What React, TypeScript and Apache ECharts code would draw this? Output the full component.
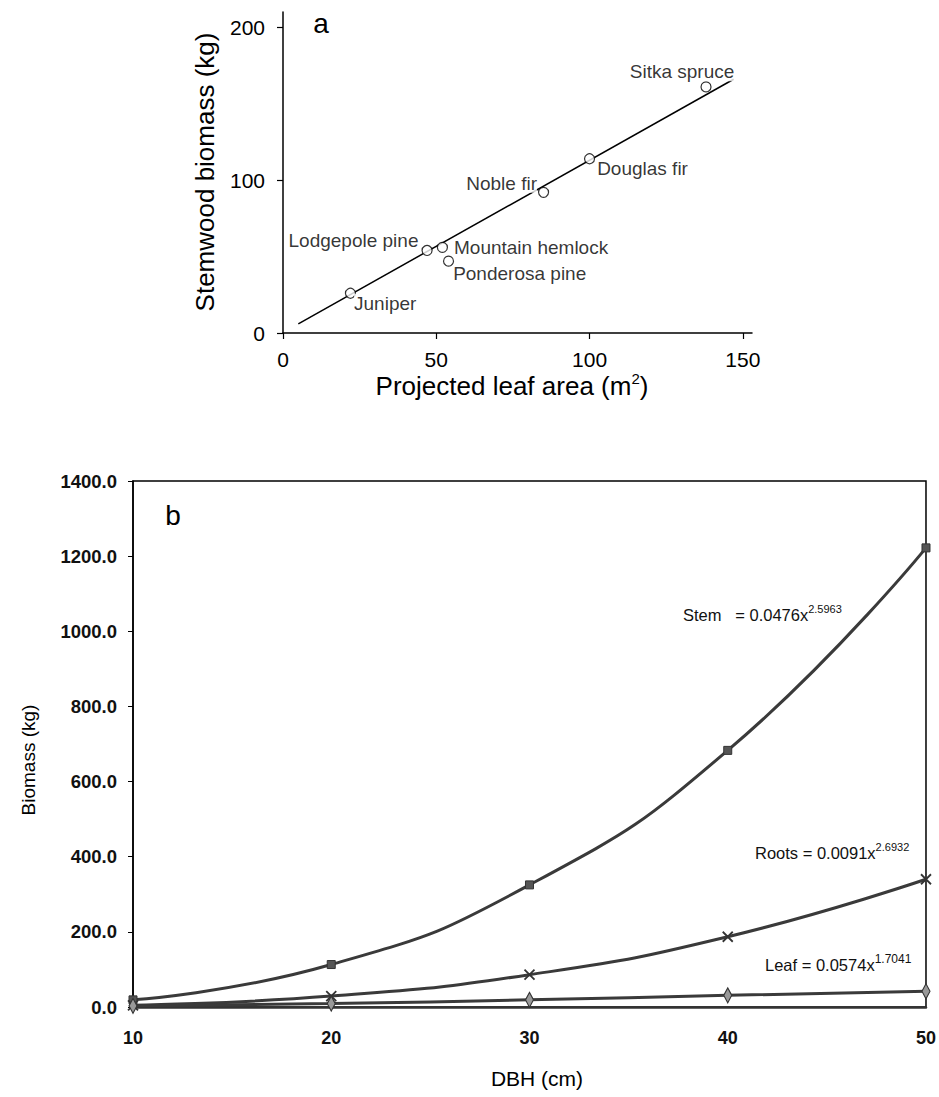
import React, { useEffect, useRef } from "react";
import * as echarts from "echarts";

// ---- Panel a data ----
const speciesNames = ["Juniper", "Lodgepole pine", "Mountain hemlock", "Ponderosa pine", "Noble fir", "Douglas fir", "Sitka spruce"];
const leafArea = [22, 47, 52, 54, 85, 100, 138];
const stemBiomass = [26, 54, 56, 47, 92, 114, 161];
const fitX = [5, 147];
const fitY = [6, 166];
const aXTicks = [0, 50, 100, 150];
const aYTicks = [0, 100, 200];

// ---- Panel b data ----
const dbh = [10, 20, 30, 40, 50];
const stemKg = [19, 113, 325, 683, 1222];
const rootsKg = [4.5, 29, 86, 187, 340];
const leafKg = [3, 9, 19, 31, 42];

const FONT = "'Liberation Sans', Arial, Helvetica, sans-serif";

const labelPlacement: Record<string, { position: string; offset: number[] }> = {
  "Juniper": { position: "right", offset: [-7, 10] },
  "Lodgepole pine": { position: "left", offset: [2, -10] },
  "Mountain hemlock": { position: "right", offset: [1, 0] },
  "Ponderosa pine": { position: "right", offset: [-6, 12] },
  "Noble fir": { position: "left", offset: [4, -9] },
  "Douglas fir": { position: "right", offset: [-3, 10] },
  "Sitka spruce": { position: "top", offset: [-24, 5] },
};

export default function App() {
  const ref = useRef<HTMLDivElement>(null);
  useEffect(() => {
    if (!ref.current) return;
    const chart = echarts.init(ref.current, null, { renderer: "svg" });
    const lineCol = "#3a3a3a";
    const eqRich = (supSize: number) => ({
      m: { fontSize: 16.5, fontFamily: FONT, fill: "#111", lineHeight: 24 },
      s: { fontSize: supSize, fontFamily: FONT, fill: "#111", verticalAlign: "top", lineHeight: 24 },
    });
    const option: any = {
      animation: false,
      backgroundColor: "#fff",
      textStyle: { fontFamily: FONT },
      grid: [
        { left: 283, top: 12, right: 187, bottom: 764, show: false },
        { left: 133, top: 481, right: 10, bottom: 90, show: true, borderColor: "#000", borderWidth: 1.5, backgroundColor: "transparent" },
      ],
      xAxis: [
        {
          gridIndex: 0, type: "value", min: 0, max: 153,
          axisLine: { show: true, onZero: false, lineStyle: { color: "#000", width: 1.5 } },
          axisTick: { show: true, inside: false, length: 6, customValues: aXTicks, lineStyle: { color: "#000", width: 1.2 } },
          axisLabel: { customValues: aXTicks, fontSize: 21, color: "#000", margin: 16, fontFamily: FONT,
            formatter: (v: number) => (aXTicks.indexOf(v) >= 0 ? String(v) : "") },
          splitLine: { show: false },
        },
        {
          gridIndex: 1, type: "value", min: 10, max: 50, interval: 10,
          axisLine: { show: true, onZero: false, lineStyle: { color: "#333", width: 2.5 } },
          axisTick: { show: false },
          axisLabel: { fontSize: 18, fontWeight: "bold", color: "#111", margin: 22, fontFamily: FONT },
          splitLine: { show: false },
        },
      ],
      yAxis: [
        {
          gridIndex: 0, type: "value", min: 0, max: 210,
          axisLine: { show: true, onZero: false, lineStyle: { color: "#000", width: 1.5 } },
          axisTick: { show: true, inside: false, length: 6, customValues: aYTicks, lineStyle: { color: "#000", width: 1.2 } },
          axisLabel: { customValues: aYTicks, fontSize: 21, color: "#000", margin: 18, fontFamily: FONT,
            formatter: (v: number) => (aYTicks.indexOf(v) >= 0 ? String(v) : "") },
          splitLine: { show: false },
        },
        {
          gridIndex: 1, type: "value", min: 0, max: 1400, interval: 200,
          axisLine: { show: true, onZero: false, lineStyle: { color: "#000", width: 1.5 } },
          axisTick: { show: true, inside: false, length: 5, lineStyle: { color: "#000" } },
          axisLabel: { fontSize: 18.5, fontWeight: "bold", color: "#111", margin: 16, fontFamily: FONT,
            formatter: (v: number) => v.toFixed(1) },
          splitLine: { show: false },
        },
      ],
      series: [
        {
          type: "line", xAxisIndex: 0, yAxisIndex: 0, z: 1,
          data: fitX.map((x, i) => [x, fitY[i]]),
          symbol: "none",
          lineStyle: { color: "#000", width: 1.5 },
        },
        {
          type: "scatter", xAxisIndex: 0, yAxisIndex: 0, z: 3,
          symbol: "circle", symbolSize: 10,
          itemStyle: { color: "#fff", borderColor: "#000", borderWidth: 1.2 },
          data: speciesNames.map((n, i) => ({
            name: n,
            value: [leafArea[i], stemBiomass[i]],
            label: {
              show: true,
              position: labelPlacement[n].position,
              offset: labelPlacement[n].offset,
              distance: 5,
              formatter: n,
              fontSize: 19,
              color: "#000",
              fontFamily: FONT,
              backgroundColor: "#fff",
              padding: 0,
            },
          })),
        },
        {
          type: "line", name: "Stem", xAxisIndex: 1, yAxisIndex: 1, smooth: true,
          data: dbh.map((x, i) => [x, stemKg[i]]),
          symbol: "rect", symbolSize: 8,
          itemStyle: { color: "#555", borderColor: "#333", borderWidth: 1 },
          lineStyle: { color: lineCol, width: 3 },
        },
        {
          type: "line", name: "Roots", xAxisIndex: 1, yAxisIndex: 1, smooth: true,
          data: dbh.map((x, i) => [x, rootsKg[i]]),
          symbol: "path://M0,0L10,10M10,0L0,10", symbolSize: 10,
          itemStyle: { color: "#444", borderColor: "#333", borderWidth: 1.8 },
          lineStyle: { color: lineCol, width: 3 },
        },
        {
          type: "line", name: "Leaf", xAxisIndex: 1, yAxisIndex: 1, smooth: true,
          data: dbh.map((x, i) => [x, leafKg[i]]),
          symbol: "diamond", symbolSize: [8, 15],
          itemStyle: { color: "#999", borderColor: "#333", borderWidth: 1.2 },
          lineStyle: { color: lineCol, width: 3 },
        },
      ],
      graphic: [
        { type: "text", x: 321, y: 23, style: { text: "a", fontSize: 28, fill: "#000", fontFamily: FONT, align: "center", verticalAlign: "middle" } },
        { type: "text", x: 205, y: 172, rotation: Math.PI / 2, style: { text: "Stemwood biomass (kg)", fontSize: 26, fill: "#000", fontFamily: FONT, align: "center", verticalAlign: "middle" } },
        {
          type: "text", x: 512, y: 386,
          style: {
            text: "{m|Projected leaf area (m}{s|2}{m|)}",
            align: "center", verticalAlign: "middle", fill: "#000",
            rich: {
              m: { fontSize: 26, fontFamily: FONT, fill: "#000", lineHeight: 30 },
              s: { fontSize: 15, fontFamily: FONT, fill: "#000", verticalAlign: "top", lineHeight: 30 },
            },
          },
        },
        { type: "text", x: 173, y: 515, style: { text: "b", fontSize: 28, fill: "#000", fontFamily: FONT, align: "center", verticalAlign: "middle" } },
        { type: "text", x: 28, y: 760, rotation: Math.PI / 2, style: { text: "Biomass (kg)", fontSize: 19, fill: "#000", fontFamily: FONT, align: "center", verticalAlign: "middle" } },
        { type: "text", x: 537, y: 1078, style: { text: "DBH (cm)", fontSize: 21, fill: "#000", fontFamily: FONT, align: "center", verticalAlign: "middle" } },
        { type: "text", x: 683, y: 615, style: { text: "{m|Stem   = 0.0476x}{s|2.5963}", align: "left", verticalAlign: "middle", rich: eqRich(11) } },
        { type: "text", x: 755, y: 853, style: { text: "{m|Roots = 0.0091x}{s|2.6932}", align: "left", verticalAlign: "middle", rich: eqRich(11) } },
        { type: "text", x: 765, y: 965, style: { text: "{m|Leaf = 0.0574x}{s|1.7041}", align: "left", verticalAlign: "middle", rich: eqRich(12) } },
      ],
    };
    chart.setOption(option);
    return () => chart.dispose();
  }, []);
  return <div ref={ref} style={{ position: "absolute", left: 0, top: 0, width: 939, height: 1097 }} />;
}
